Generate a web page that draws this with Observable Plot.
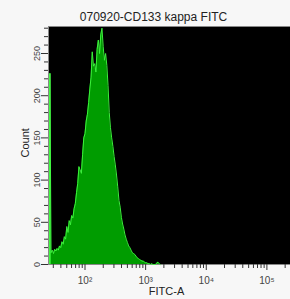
<!DOCTYPE html>
<html>
<head>
<meta charset="utf-8">
<script src="https://cdn.jsdelivr.net/npm/d3@7"></script>
<script src="https://cdn.jsdelivr.net/npm/@observablehq/plot@0.6"></script>
<style>
html,body{margin:0;padding:0;background:#f7f7f7;overflow:hidden;}
</style>
</head>
<body>
<div id="chart"></div>
<script>
const title = "070920-CD133 kappa FITC";
const xLabel = "FITC-A";
const yLabel = "Count";
// histogram bins: log10(FITC-A) start and width
const binLog10Start = 1.42;
const binLog10Width = 0.02;
const counts = [226,14,17,13,18,16,19,17,22,20,27,24,33,30,45,38,52,47,58,55,
  66,72,85,96,116,112,108,130,150,155,170,178,192,208,222,252,235,238,228,255,
  266,250,272,280,258,242,250,236,212,180,162,150,140,128,118,106,92,76,68,56,
  48,42,35,30,26,22,20,17,14,13,12,10,8,7,6,5,4,4,3,2,
  2,1,1,0,1,0,0,0,1,3,1,0];
const yMajorTicks = [0,50,100,150,200,250];
const yMinorTicks = [10,20,30,40,60,70,80,90,110,120,130,140,160,170,180,190,210,220,230,240,260,270,280];
const xMajorTicks = [100,1000,10000,100000];
const xMajorLabels = ["10²","10³","10⁴","10⁵"];
const xMinorTicks = [30,40,50,60,70,80,90,200,300,400,500,600,700,800,900,2000,3000,4000,5000,6000,7000,8000,9000,20000,30000,40000,50000,60000,70000,80000,90000,200000];

const data = counts.map((c,i)=>({fitc: Math.pow(10, binLog10Start + i*binLog10Width), count:c}));
const firstBin = [data[0]];

const chart = Plot.plot({
  width:290, height:299,
  marginTop:26, marginLeft:48, marginRight:0, marginBottom:35,
  style:{background:"#f7f7f7", fontFamily:"'Liberation Sans', Arial, sans-serif", fontSize:"9px", color:"#333"},
  x:{type:"log", domain:[25.0, 245000]},
  y:{domain:[0,282]},
  marks:[
    Plot.frame({fill:"black", stroke:"#888"}),
    Plot.areaY(data,{x:"fitc", y:"count", fill:"#009c00"}),
    Plot.lineY(data,{x:"fitc", y:"count", stroke:"#3cf03c", strokeWidth:1}),
    Plot.ruleX(firstBin,{x:"fitc", y1:0, y2:"count", stroke:"#46ff46", strokeWidth:1.6}),
    Plot.axisY(yMinorTicks,{tickSize:4, text:null, label:null, stroke:"#333"}),
    Plot.axisY(yMajorTicks,{tickSize:7, tickRotate:-90, tickPadding:2, label:null, stroke:"#333", fill:"#444"}),
    Plot.axisX(xMinorTicks,{tickSize:4, text:null, label:null, stroke:"#333"}),
    Plot.axisX(xMajorTicks,{tickSize:6, tickPadding:6, label:null, stroke:"#333", fill:"#444", fontSize:10,
      tickFormat:(d)=>xMajorLabels[xMajorTicks.indexOf(d)]}),
    Plot.text([title],{frameAnchor:"top", dx:-16, dy:-14, fontSize:12, fill:"#222"}),
    Plot.text([xLabel],{frameAnchor:"bottom", dx:-3, dy:30, fontSize:11, fill:"#222"}),
    Plot.text([yLabel],{frameAnchor:"left", dx:-23, dy:12, rotate:-90, fontSize:11, fill:"#222"})
  ]
});
document.getElementById("chart").appendChild(chart);
</script>
</body>
</html>
